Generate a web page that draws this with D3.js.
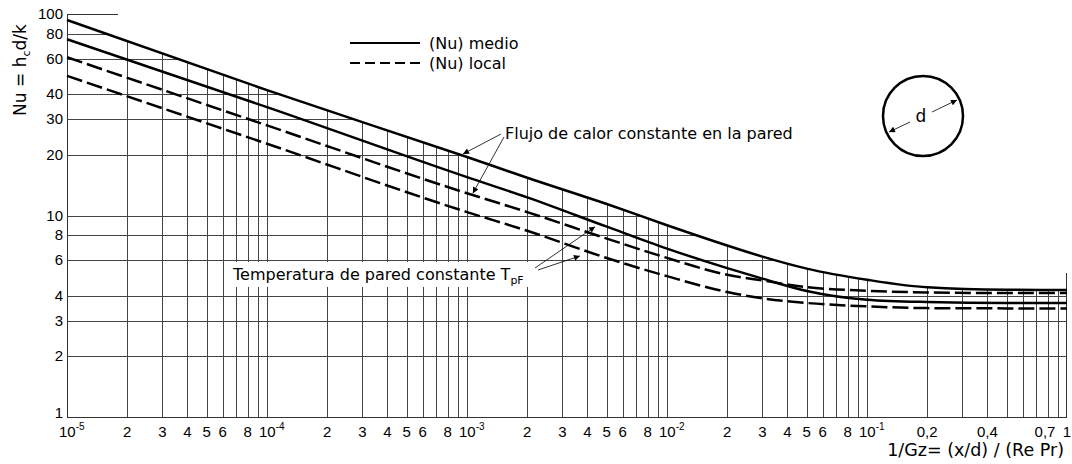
<!DOCTYPE html>
<html>
<head>
<meta charset="utf-8">
<script src="https://cdn.jsdelivr.net/npm/d3@7"></script>
<style>
  body { margin: 0; background: #fff; }
  svg { display: block; font-family: "Liberation Sans", Arial, sans-serif; }
  .wide { font-family: "DejaVu Sans", sans-serif; }
</style>
</head>
<body>
<script>
const margin = { top: 14, right: 5, bottom: 47, left: 67 }
const width = 1072 - margin.left - margin.right
const height = 464 - margin.top - margin.bottom

// 1/Gz values where the curves were read
const gz = [1e-5, 1e-4, 1e-3, 2e-3, 5e-3, 1e-2, 2e-2, 3e-2, 5e-2, 0.1, 0.2, 0.5, 1]
// Nu
const nuMedioFlujo = [93.4, 41.9, 19.5, 15.4, 11.4, 8.95, 7.1, 6.25, 5.45, 4.8, 4.4, 4.28, 4.27]
const nuMedioTemp = [74.9, 34.5, 15.5, 12.3, 8.8, 6.85, 5.48, 4.86, 4.22, 3.82, 3.72, 3.68, 3.68]
const nuLocalFlujo = [61.0, 28.0, 12.9, 10.4, 7.68, 6.16, 5.08, 4.76, 4.41, 4.23, 4.15, 4.12, 4.12]
const nuLocalTemp = [49.3, 22.7, 10.4, 8.4, 6.15, 5.0, 4.17, 3.88, 3.68, 3.54, 3.47, 3.46, 3.46]

const yGrid = [1, 2, 3, 4, 6, 8, 10, 20, 30, 40, 60, 80]
const yLabels = [1, 2, 3, 4, 6, 8, 10, 20, 30, 40, 60, 80, 100]
const xLabelVals = [
  1e-5, 2e-5, 3e-5, 4e-5, 5e-5, 6e-5, 8e-5,
  1e-4, 2e-4, 3e-4, 4e-4, 5e-4, 6e-4, 8e-4,
  1e-3, 2e-3, 3e-3, 4e-3, 5e-3, 6e-3, 8e-3,
  1e-2, 2e-2, 3e-2, 4e-2, 5e-2, 6e-2, 8e-2,
  1e-1, 0.2, 0.4, 0.7, 1
]
const xLabelTexts = [
  '10|-5', '2', '3', '4', '5', '6', '8',
  '10|-4', '2', '3', '4', '5', '6', '8',
  '10|-3', '2', '3', '4', '5', '6', '8',
  '10|-2', '2', '3', '4', '5', '6', '8',
  '10|-1', '0,2', '0,4', '0,7', '1'
]

const svg = d3.select('body').append('svg')
  .attr('width', width + margin.left + margin.right)
  .attr('height', height + margin.top + margin.bottom)

const defs = svg.append('defs')
defs.append('marker')
  .attr('id', 'head')
  .attr('viewBox', '0 0 10 10')
  .attr('refX', 10).attr('refY', 5)
  .attr('markerWidth', 8).attr('markerHeight', 6)
  .attr('markerUnits', 'userSpaceOnUse')
  .attr('orient', 'auto-start-reverse')
  .append('path').attr('d', 'M0,0 L10,5 L0,10 Z').attr('fill', '#000')

const g = svg.append('g')
  .attr('transform', `translate(${margin.left},${margin.top})`)

const x = d3.scaleLog().domain([1e-5, 1]).range([0, width])
const y = d3.scaleLog().domain([1, 100]).range([height, 0])

const line = d3.line()
  .x(d => x(d[0]))
  .y(d => y(d[1]))
  .curve(d3.curveMonotoneX)

const pts = arr => gz.map((v, i) => [v, arr[i]])

// grid only lives under the top curve
defs.append('clipPath').attr('id', 'under')
  .append('path')
  .attr('d', d3.area()
    .x(d => x(d[0]))
    .y0(height + 1)
    .y1(d => y(d[1]))
    .curve(d3.curveMonotoneX)(pts(nuMedioFlujo)))

const grid = g.append('g')
  .attr('clip-path', 'url(#under)')
  .attr('stroke', '#444')
  .attr('stroke-width', 1)
  .attr('shape-rendering', 'crispEdges')

grid.selectAll('.vx').data(x.ticks())
  .enter().append('line')
  .attr('x1', d => Math.round(x(d)) + 0.5).attr('x2', d => Math.round(x(d)) + 0.5)
  .attr('y1', height).attr('y2', 0)

grid.selectAll('.hy').data(yGrid)
  .enter().append('line')
  .attr('x1', 0).attr('x2', width)
  .attr('y1', d => Math.round(y(d)) + 0.5).attr('y2', d => Math.round(y(d)) + 0.5)

// frame
const frame = g.append('g').attr('stroke', '#333').attr('shape-rendering', 'crispEdges')
frame.append('line')
  .attr('x1', 0.5).attr('x2', 0.5).attr('y1', y(1)).attr('y2', y(100))
frame.append('line')
  .attr('x1', 0).attr('x2', width).attr('y1', Math.round(y(1)) + 0.5).attr('y2', Math.round(y(1)) + 0.5)
frame.append('line')
  .attr('x1', Math.round(x(1)) - 0.5).attr('x2', Math.round(x(1)) - 0.5).attr('y1', y(1)).attr('y2', y(5.2))
frame.append('line')
  .attr('x1', 0).attr('x2', x(1.8e-5)).attr('y1', Math.round(y(100)) + 0.5).attr('y2', Math.round(y(100)) + 0.5)

// y labels
g.selectAll('.yl').data(yLabels)
  .enter().append('text')
  .attr('x', -4)
  .attr('y', d => y(d) + (d === 1 ? 1 : 5))
  .attr('text-anchor', 'end')
  .attr('font-size', 15)
  .text(d => d)

// x labels
xLabelVals.forEach((v, i) => {
  const parts = xLabelTexts[i].split('|')
  const t = g.append('text')
    .attr('y', height + 20)
    .attr('font-size', 15)
  if (parts.length === 2) {
    t.attr('x', x(v) - 8).attr('text-anchor', 'start')
    t.append('tspan').text(parts[0])
    t.append('tspan').attr('dy', -7).attr('font-size', 10).text(parts[1])
  } else {
    t.attr('x', x(v) + (parts[0] === '0,7' ? 9 : 0)).attr('text-anchor', 'middle').text(parts[0])
  }
})

g.append('text')
  .attr('class', 'wide')
  .attr('x', width - 3)
  .attr('y', height + 39)
  .attr('text-anchor', 'end')
  .attr('font-size', 17.5)
  .text('1/Gz= (x/d) / (Re Pr)')

const yt = svg.append('text')
  .attr('class', 'wide')
  .attr('transform', 'translate(26,70) rotate(-90)')
  .attr('text-anchor', 'middle')
  .attr('font-size', 17)
yt.append('tspan').text('Nu = h')
yt.append('tspan').attr('dy', 4).attr('font-size', 11).text('c')
yt.append('tspan').attr('dy', -4).text('d/k')

// annotation "Temperatura ..." with white box over the grid
svg.append('rect')
  .attr('x', 228).attr('y', 262).attr('width', 304).attr('height', 25)
  .attr('fill', '#fff')
const tt = svg.append('text')
  .attr('class', 'wide')
  .attr('x', 233).attr('y', 280)
  .attr('font-size', 16)
tt.append('tspan').text('Temperatura de pared constante T')
tt.append('tspan').attr('dy', 4).attr('font-size', 11).text('pF')

svg.append('text')
  .attr('class', 'wide')
  .attr('x', 505).attr('y', 139)
  .attr('font-size', 16)
  .text('Flujo de calor constante en la pared')

// curves
const curves = [
  { d: nuMedioFlujo, dash: null },
  { d: nuMedioTemp, dash: null },
  { d: nuLocalFlujo, dash: '16,5' },
  { d: nuLocalTemp, dash: '16,5' }
]
g.selectAll('.curve').data(curves)
  .enter().append('path')
  .attr('class', 'curve')
  .attr('d', c => line(pts(c.d)))
  .attr('fill', 'none')
  .attr('stroke', '#000')
  .attr('stroke-width', 2.5)
  .attr('stroke-dasharray', c => c.dash)

// leaders
const leaders = [
  { from: [501, 134], to: [9.55e-4, 20.2] },
  { from: [504, 137], to: [1.07e-3, 12.9] },
  { from: [535, 268], to: [4.37e-3, 8.8] },
  { from: [538, 270], to: [3.67e-3, 6.3] }
]
g.selectAll('.leader').data(leaders)
  .enter().append('line')
  .attr('x1', d => d.from[0] - margin.left).attr('y1', d => d.from[1] - margin.top)
  .attr('x2', d => x(d.to[0])).attr('y2', d => y(d.to[1]))
  .attr('stroke', '#000').attr('stroke-width', 0.8)
  .attr('marker-end', 'url(#head)')

// legend
const legend = svg.append('g').attr('transform', 'translate(350,43)')
legend.append('line').attr('x1', 0).attr('x2', 70).attr('y1', 0).attr('y2', 0)
  .attr('stroke', '#000').attr('stroke-width', 2.2)
legend.append('line').attr('x1', 0).attr('x2', 70).attr('y1', 20).attr('y2', 20)
  .attr('stroke', '#000').attr('stroke-width', 2.2).attr('stroke-dasharray', '10,5')
legend.append('text').attr('class', 'wide').attr('x', 79).attr('y', 6).attr('font-size', 16).text('(Nu) medio')
legend.append('text').attr('class', 'wide').attr('x', 79).attr('y', 26).attr('font-size', 16).text('(Nu) local')

// tube cross-section
const tube = svg.append('g').attr('transform', 'translate(923,116)')
tube.append('circle').attr('r', 40).attr('fill', 'none').attr('stroke', '#000').attr('stroke-width', 2.5)
tube.append('text').attr('class', 'wide').attr('x', -2).attr('y', 6).attr('text-anchor', 'middle').attr('font-size', 17).text('d')
tube.append('line').attr('x1', -13).attr('y1', 6).attr('x2', -34).attr('y2', 16)
  .attr('stroke', '#000').attr('stroke-width', 0.8).attr('marker-end', 'url(#head)')
tube.append('line').attr('x1', 9).attr('y1', -4).attr('x2', 34).attr('y2', -16)
  .attr('stroke', '#000').attr('stroke-width', 0.8).attr('marker-end', 'url(#head)')
</script>
</body>
</html>
